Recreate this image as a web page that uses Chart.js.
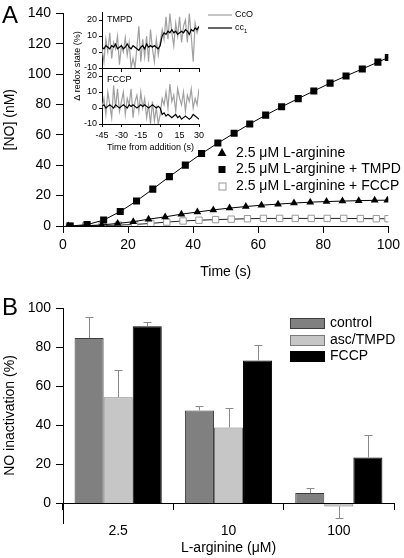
<!DOCTYPE html>
<html>
<head>
<meta charset="utf-8">
<script src="https://cdn.jsdelivr.net/npm/chart.js@4"></script>
<style>
  html, body { margin: 0; padding: 0; background: #fff; }
  body { width: 404px; height: 558px; position: relative; overflow: hidden; }
  canvas { position: absolute; }
  #chartA { left: 0; top: 0; }
  #inset { left: 62px; top: 0; }
  #chartB { left: 0; top: 290px; }
</style>
</head>
<body>
<canvas id="chartA" width="404" height="290"></canvas>
<canvas id="inset" width="200" height="160"></canvas>
<canvas id="chartB" width="404" height="268"></canvas>
<script>
// ---- panel A: NO accumulation (nM) vs time (s)
const argTime = [1.6, 7.2, 11.9, 16.8, 21.6, 26.3, 31.4, 36.4, 41.3, 46.2, 51.2, 56.2, 61.0, 66.1, 71.0, 76.0, 81.0, 85.9, 90.9, 95.8, 99.7];
const argNO = [0, 0.2, 0.7, 1.7, 2.8, 4.5, 6.0, 7.8, 9.2, 10.6, 11.8, 12.8, 13.7, 14.4, 15.1, 15.7, 16.1, 16.4, 16.7, 16.9, 17.0];
const tmpdTime = [2.2, 7.4, 12.5, 17.6, 22.6, 27.6, 32.7, 37.6, 42.6, 47.6, 52.6, 57.4, 62.3, 67.2, 72.3, 77.1, 82.1, 87.0, 92.0, 96.8, 100];
const tmpdNO = [0, 0.9, 3.9, 9.5, 16.5, 24.3, 32.5, 40.1, 47.7, 54.6, 61.1, 67.2, 73.0, 78.5, 83.9, 88.9, 94.1, 98.8, 103.4, 107.9, 111.0];
const fccpTime = [2.0, 7.0, 12.0, 17.0, 22.0, 27.0, 31.9, 36.9, 41.8, 46.9, 51.7, 56.7, 61.6, 66.6, 71.4, 76.3, 81.2, 86.3, 91.4, 96.3, 99.9];
const fccpNO = [0, 0.1, 0.3, 0.6, 1.0, 1.7, 2.6, 3.3, 3.8, 4.2, 4.5, 4.8, 5.0, 5.0, 5.0, 5.0, 5.0, 5.0, 4.9, 4.8, 4.8];
const legendA = ['2.5 \u03bcM L-arginine', '2.5 \u03bcM L-arginine + TMPD', '2.5 \u03bcM L-arginine + FCCP'];

// ---- inset: change in redox state (%) vs time from addition (s)
const insetTime = [-45, -43.5, -42, -40.5, -39, -37.5, -36, -34.5, -33, -31.5, -30, -28.5, -27, -25.5, -24, -22.5, -21, -19.5, -18, -16.5,
  -15, -13.5, -12, -10.5, -9, -7.5, -6, -4.5, -3, -1.5, 0, 1.5, 3, 4.5, 6, 7.5, 9, 10.5, 12, 13.5, 15, 16.5, 18, 19.5, 21, 22.5, 24, 25.5, 27, 28.5, 30];
const tmpdCcO = [2, -6, 8, 0, 12, -4, 6, 2, 10, -8, 4, 0, 9, -2, 6, -10, -4, -10, 3, 16, -6, 8, -3, 10, -6, 14, 2, -6, 8, -2, 6,
  14, 8, 22, 8, 24, 12, 4, 18, 10, 22, 6, 16, 20, 6, 24, 10, -6, 18, 12, 16];
const tmpdCc1 = [3, 2, 4, 3, 2, 4, 3, 5, 2, 3, 4, 2, 3, 5, 3, 2, 4, 3, 2, 1, 3, 4, 2, 5, 3, 4, 3, 4, 3, 2, 4,
  10, 12, 11, 13, 12, 14, 12, 13, 11, 12, 13, 12, 14, 13, 11, 14, 13, 15, 14, 16];
const fccpCcO = [0, 6, -4, 10, 2, -6, 14, 0, 12, -2, 4, 10, -4, 6, 2, 12, -6, 4, 8, -2, 10, 0, 6, -6, 2, -10, 4, -8, 0, -10, -4,
  6, 2, 10, 0, 15, 4, 8, -2, 12, 6, 2, 10, -2, 8, 4, 12, 0, 6, 2, 12];
const fccpCc1 = [1, 2, 0, 1, 2, 1, 0, 2, 1, 0, 1, 2, 1, 0, 2, 1, 2, 1, 0, 1, 2, 1, 2, 1, 0, 1, 2, 1, 0, 1, 0,
  -4, -3, -5, -4, -5, -6, -5, -4, -6, -5, -7, -6, -5, -6, -7, -6, -4, -5, -6, -7];

// ---- panel B: NO inactivation (%) by L-arginine concentration
const argConc = ['2.5', '10', '100'];
const controlInact = [84.6, 47.6, 5.3];
const controlErr = [10.6, 2.2, 2.5];
const ascInact = [54.4, 38.9, -1.5];
const ascErr = [14.0, 9.7, 5.8];
const fccpInact = [90.6, 73.2, 23.5];
const fccpErr = [2.2, 7.8, 11.7];

const FONT = "'Liberation Sans', Arial, Helvetica, sans-serif";
Chart.defaults.font.family = FONT;
Chart.defaults.color = '#000';

function pts(xs, ys) {
  return xs.map((x, i) => ({ x: x, y: ys[i] }));
}

function axisStyle(tickLen) {
  return {
    grid: { drawOnChartArea: false, color: '#000', tickColor: '#000', tickLength: tickLen },
    border: { color: '#000', width: 1 }
  };
}

// ---------- panel A ----------
const annotA = {
  id: 'annotA',
  afterDraw(chart) {
    const ctx = chart.ctx;
    ctx.save();
    ctx.fillStyle = '#000';
    ctx.font = '24px ' + FONT;
    ctx.textBaseline = 'top';
    ctx.fillText('A', 2, 4);

    // legend
    ctx.font = '14px ' + FONT;
    ctx.textBaseline = 'middle';
    const rows = [153, 169.5, 186];
    const mx = 222;
    // triangle
    ctx.beginPath();
    ctx.moveTo(mx, rows[0] - 5);
    ctx.lineTo(mx - 4.5, rows[0] + 3);
    ctx.lineTo(mx + 4.5, rows[0] + 3);
    ctx.closePath();
    ctx.fill();
    // filled square
    ctx.fillRect(mx - 3.5, rows[1] - 3.5, 7, 7);
    // open square
    ctx.strokeStyle = '#999';
    ctx.lineWidth = 1;
    ctx.strokeRect(mx - 3, rows[2] - 3, 7, 7);
    legendA.forEach((t, i) => ctx.fillText(t, 236, rows[i]));
    ctx.restore();
  }
};

new Chart(document.getElementById('chartA'), {
  type: 'line',
  data: {
    datasets: [
      { data: pts(tmpdTime, tmpdNO), borderColor: '#000', borderWidth: 1, pointStyle: 'rect', pointRadius: 5,
        pointBackgroundColor: '#000', pointBorderColor: '#000', pointBorderWidth: 0 },
      { data: pts(argTime, argNO), borderColor: '#000', borderWidth: 1, pointStyle: 'triangle', pointRadius: 4.5,
        pointBackgroundColor: '#000', pointBorderColor: '#000', pointBorderWidth: 0 },
      { data: pts(fccpTime, fccpNO), borderColor: '#222', borderWidth: 1, pointStyle: 'rect', pointRadius: 4.5,
        pointBackgroundColor: '#fff', pointBorderColor: '#999', pointBorderWidth: 1 }
    ]
  },
  options: {
    responsive: false,
    animation: false,
    devicePixelRatio: 1,
    layout: { padding: { top: 10, right: 13, left: 0, bottom: 0 } },
    plugins: { legend: { display: false }, tooltip: { enabled: false } },
    scales: {
      x: {
        type: 'linear', min: 0, max: 100,
        ticks: { stepSize: 20, font: { size: 14 }, padding: 4, maxRotation: 0 },
        title: { display: true, text: 'Time (s)', font: { size: 14 }, padding: { top: 0, bottom: 9 } },
        afterFit: s => { s.height = 64; },
        ...axisStyle(7)
      },
      y: {
        type: 'linear', min: 0, max: 140,
        ticks: { stepSize: 20, font: { size: 14 }, padding: 5 },
        title: { display: true, text: '[NO] (nM)', font: { size: 14 }, padding: { top: 2, bottom: 0 } },
        afterFit: s => { s.width = 63; },
        ...axisStyle(7)
      }
    }
  },
  plugins: [annotA]
});

// ---------- inset ----------
const annotInset = {
  id: 'annotInset',
  afterDraw(chart) {
    const ctx = chart.ctx;
    ctx.save();
    ctx.fillStyle = '#000';
    ctx.font = '9px ' + FONT;
    ctx.textBaseline = 'middle';
    ctx.fillText('TMPD', 45, 20);
    ctx.fillText('FCCP', 45, 80);

    // legend
    ctx.lineWidth = 1.2;
    ctx.strokeStyle = '#a0a0a0';
    ctx.beginPath(); ctx.moveTo(146, 15); ctx.lineTo(170, 15); ctx.stroke();
    ctx.strokeStyle = '#000';
    ctx.beginPath(); ctx.moveTo(146, 28); ctx.lineTo(170, 28); ctx.stroke();
    ctx.fillText('CcO', 173, 15);
    ctx.fillText('cc', 173, 28);
    const w = ctx.measureText('cc').width;
    ctx.font = '6px ' + FONT;
    ctx.fillText('1', 173 + w, 31);

    // shared y title
    ctx.font = '9px ' + FONT;
    ctx.translate(16, 66);
    ctx.rotate(-Math.PI / 2);
    ctx.textAlign = 'center';
    ctx.fillText('\u0394 redox state (%)', 0, 0);
    ctx.restore();
  }
};

function insetY() {
  return {
    type: 'linear', min: -10, max: 25, stack: 'ins', stackWeight: 1,
    ticks: { stepSize: 10, includeBounds: false, autoSkip: false, font: { size: 9 }, padding: 2 },
    afterFit: s => { s.width = 40; },
    ...axisStyle(3)
  };
}

new Chart(document.getElementById('inset'), {
  type: 'line',
  data: {
    datasets: [
      { data: pts(insetTime, tmpdCc1), yAxisID: 'yTop', borderColor: '#000', borderWidth: 1.2, pointRadius: 0 },
      { data: pts(insetTime, fccpCc1), yAxisID: 'yBot', borderColor: '#000', borderWidth: 1.2, pointRadius: 0 },
      { data: pts(insetTime, tmpdCcO), yAxisID: 'yTop', borderColor: '#a0a0a0', borderWidth: 1.2, pointRadius: 0 },
      { data: pts(insetTime, fccpCcO), yAxisID: 'yBot', borderColor: '#a0a0a0', borderWidth: 1.2, pointRadius: 0 }
    ]
  },
  options: {
    responsive: false,
    animation: false,
    devicePixelRatio: 1,
    layout: { padding: { top: 12, right: 63, left: 0, bottom: 0 } },
    plugins: { legend: { display: false }, tooltip: { enabled: false } },
    scales: {
      x: {
        type: 'linear', min: -45, max: 30,
        ticks: { stepSize: 15, font: { size: 9 }, padding: 3, maxRotation: 0, autoSkip: false },
        title: { display: true, text: 'Time from addition (s)', font: { size: 9 }, padding: { top: 0, bottom: 7 } },
        afterFit: s => { s.height = 36; },
        ...axisStyle(3)
      },
      xMid: {
        type: 'linear', min: -45, max: 30, position: { yTop: -10 },
        ticks: { stepSize: 15, display: false },
        ...axisStyle(3)
      },
      // stacked axes are laid out bottom first
      yBot: insetY(),
      yTop: insetY()
    }
  },
  plugins: [annotInset]
});

// ---------- panel B ----------
const errorBars = {
  id: 'errorBars',
  afterDatasetsDraw(chart) {
    const ctx = chart.ctx;
    const y = chart.scales.y;
    ctx.save();
    ctx.strokeStyle = '#8a8a8a';
    ctx.lineWidth = 1;
    chart.data.datasets.forEach((ds, di) => {
      chart.getDatasetMeta(di).data.forEach((bar, i) => {
        const v = ds.data[i];
        const end = v >= 0 ? v + ds.errors[i] : v - ds.errors[i];
        const yEnd = Math.round(y.getPixelForValue(end)) + 0.5;
        const x = Math.round(bar.x) + 0.5;
        ctx.beginPath();
        ctx.moveTo(x, bar.y);
        ctx.lineTo(x, yEnd);
        ctx.moveTo(x - 4, yEnd);
        ctx.lineTo(x + 4, yEnd);
        ctx.stroke();
      });
    });
    ctx.restore();
  }
};

const annotB = {
  id: 'annotB',
  afterDraw(chart) {
    const ctx = chart.ctx;
    ctx.save();
    ctx.fillStyle = '#000';
    ctx.font = '24px ' + FONT;
    ctx.textBaseline = 'top';
    ctx.fillText('B', 2, 6);

    ctx.font = '14px ' + FONT;
    ctx.textBaseline = 'middle';
    const rows = [33, 50, 66];
    chart.data.datasets.forEach((ds, i) => {
      ctx.fillStyle = ds.backgroundColor;
      ctx.fillRect(290, rows[i] - 5, 35, 11);
      ctx.strokeStyle = ds.borderColor;
      ctx.lineWidth = 1;
      ctx.strokeRect(290.5, rows[i] - 4.5, 34, 10);
      ctx.fillStyle = '#000';
      ctx.fillText(ds.label, 330, rows[i]);
    });
    ctx.restore();
  }
};

new Chart(document.getElementById('chartB'), {
  type: 'bar',
  data: {
    labels: argConc,
    datasets: [
      { label: 'control', data: controlInact, errors: controlErr, backgroundColor: '#808080', borderColor: '#3c3c3c', borderWidth: 1 },
      { label: 'asc/TMPD', data: ascInact, errors: ascErr, backgroundColor: '#c6c6c6', borderColor: '#7a7a7a', borderWidth: 1 },
      { label: 'FCCP', data: fccpInact, errors: fccpErr, backgroundColor: '#000', borderColor: '#000', borderWidth: 1 }
    ]
  },
  options: {
    responsive: false,
    animation: false,
    devicePixelRatio: 1,
    layout: { padding: { top: 18, right: 10, left: 0, bottom: 35 } },
    datasets: { bar: { categoryPercentage: 0.79, barPercentage: 1.0 } },
    plugins: { legend: { display: false }, tooltip: { enabled: false } },
    scales: {
      x: {
        type: 'category', position: { y: 0 }, offset: true,
        ticks: { font: { size: 14 }, padding: 13 },
        title: { display: true, text: 'L-arginine (\u03bcM)', font: { size: 14 }, padding: { top: -13, bottom: 0 } },
        grid: { offset: true, drawOnChartArea: false, color: '#000', tickLength: 6 },
        border: { color: '#000', width: 1 }
      },
      y: {
        type: 'linear', min: -10, max: 100,
        ticks: { stepSize: 20, includeBounds: false, font: { size: 14 }, padding: 5 },
        title: { display: true, text: 'NO inactivation (%)', font: { size: 14 }, padding: { top: 2, bottom: 0 } },
        afterFit: s => { s.width = 63; },
        ...axisStyle(7)
      }
    }
  },
  plugins: [errorBars, annotB]
});
</script>
</body>
</html>
